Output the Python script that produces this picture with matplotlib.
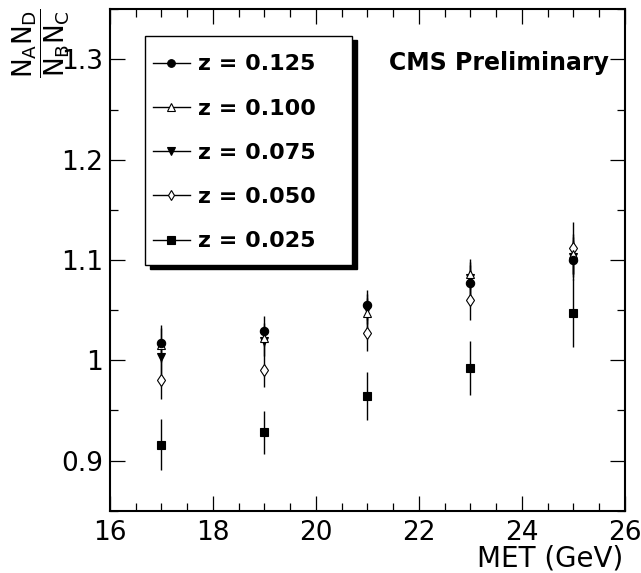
import matplotlib
matplotlib.use('Agg')
import matplotlib.pyplot as plt
from matplotlib.lines import Line2D
from matplotlib.patches import Rectangle
from matplotlib.ticker import MultipleLocator

plt.rcParams['font.family'] = ['DejaVu Sans']
plt.rcParams['mathtext.fontset'] = 'custom'
plt.rcParams['mathtext.rm'] = 'DejaVu Sans'
plt.rcParams['mathtext.it'] = 'DejaVu Sans'
plt.rcParams['mathtext.bf'] = 'DejaVu Sans:bold'

# data
met = [17, 19, 21, 23, 25]
z_labels = ['z = 0.125', 'z = 0.100', 'z = 0.075', 'z = 0.050', 'z = 0.025']
ratio_125 = [1.017, 1.029, 1.055, 1.077, 1.100]
err_125 = [0.018, 0.015, 0.015, 0.018, 0.020]
ratio_100 = [1.015, 1.022, 1.047, 1.086, 1.106]
err_100 = [0.017, 0.015, 0.015, 0.015, 0.020]
ratio_075 = [1.003, 1.019, 1.051, 1.082, 1.103]
err_075 = [0.017, 0.015, 0.015, 0.016, 0.020]
ratio_050 = [0.980, 0.990, 1.027, 1.060, 1.112]
err_050 = [0.019, 0.017, 0.018, 0.020, 0.026]
ratio_025 = [0.916, 0.928, 0.964, 0.992, 1.047]
err_025 = [0.025, 0.021, 0.024, 0.027, 0.034]

series = [
    (ratio_125, err_125, dict(marker='o', ms=6, mfc='black')),
    (ratio_100, err_100, dict(marker='^', ms=6, mfc='white')),
    (ratio_075, err_075, dict(marker='v', ms=6, mfc='black')),
    (ratio_050, err_050, dict(marker='d', ms=6, mfc='white')),
    (ratio_025, err_025, dict(marker='s', ms=6, mfc='black')),
]

fig = plt.figure(figsize=(6.41, 5.73), dpi=100)
ax = fig.add_axes([0.1716, 0.1087, 0.8034, 0.8751])

# draw low z first so the filled circles end up on top
for vals, errs, style in reversed(series):
    ax.errorbar(met, vals, yerr=errs, linestyle='none', color='black',
                elinewidth=1.0, capsize=0, mec='black', mew=0.8, **style)

ax.set_xlim(16, 26)
ax.set_ylim(0.85, 1.35)
ax.xaxis.set_major_locator(MultipleLocator(2))
ax.xaxis.set_minor_locator(MultipleLocator(0.5))
ax.yaxis.set_minor_locator(MultipleLocator(0.05))
ax.set_yticks([0.9, 1.0, 1.1, 1.2, 1.3])
ax.set_yticklabels(['0.9', '1', '1.1', '1.2', '1.3'])
ax.tick_params(which='both', direction='in', top=True, right=True,
               width=0.9, labelsize=19)
ax.tick_params(which='major', length=11)
ax.tick_params(which='minor', length=5.5)
ax.tick_params(axis='x', pad=7)
ax.tick_params(axis='y', pad=5)
for s in ax.spines.values():
    s.set_linewidth(1.5)

# legend box with a solid black shadow, ROOT style
box = (0.0678, 0.490, 0.403, 0.457)
ax.add_patch(Rectangle((box[0] + 0.0097, box[1] - 0.008), box[2], box[3],
                       transform=ax.transAxes, facecolor='black',
                       edgecolor='black', zorder=5))
ax.add_patch(Rectangle((box[0], box[1]), box[2], box[3],
                       transform=ax.transAxes, facecolor='white',
                       edgecolor='black', lw=1.0, zorder=6))

handles = [Line2D([], [], color='black', lw=1.0, mec='black', mew=0.8,
                  **dict(st, ms=5.5)) for _, _, st in series]
leg = ax.legend(handles, z_labels, loc='upper left',
                bbox_to_anchor=(0.0833, 0.910), borderaxespad=0,
                prop={'weight': 'bold', 'size': 16}, frameon=False,
                handlelength=1.67, handletextpad=0.36, labelspacing=1.09,
                borderpad=0)
leg.set_zorder(7)

ax.text(0.969, 0.879, 'CMS Preliminary', transform=ax.transAxes,
        ha='right', va='baseline', fontsize=17, fontweight='bold')

fig.text(623 / 641, 1 - 566 / 573, 'MET (GeV)', ha='right', va='baseline',
         fontsize=20)
fig.text(41 / 641, 1 - 43 / 573, r'$\dfrac{N_{A}N_{D}}{N_{B}N_{C}}$',
         rotation=90, ha='center', va='center', fontsize=19)

fig.savefig('out.png', dpi=100)
